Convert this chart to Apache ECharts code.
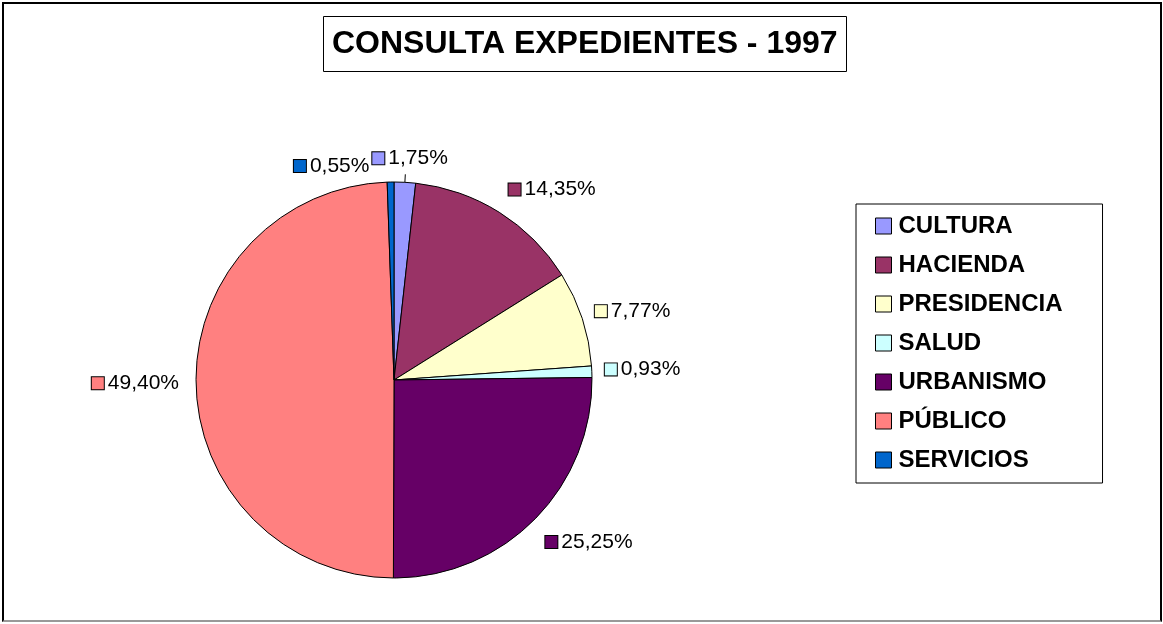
<!DOCTYPE html>
<html>
<head>
<meta charset="utf-8">
<title>CONSULTA EXPEDIENTES - 1997</title>
<script src="https://cdn.jsdelivr.net/npm/echarts@6/dist/echarts.min.js"></script>
<style>
  html, body { margin: 0; padding: 0; background: #fff; }
  #chart { width: 1163px; height: 624px; }
  #frame {
    position: absolute; left: 2px; top: 2px; width: 1160px; height: 620px;
    box-sizing: border-box; border: 2px solid #000; border-bottom-color: #999;
    pointer-events: none;
  }
</style>
</head>
<body>
<div id="chart"></div>
<div id="frame"></div>
<script>
const categories = ["CULTURA", "HACIENDA", "PRESIDENCIA", "SALUD", "URBANISMO", "PÚBLICO", "SERVICIOS"];
const percentages = [1.75, 14.35, 7.77, 0.93, 25.25, 49.40, 0.55];
const colors = ["#9999FF", "#993366", "#FFFFCC", "#CCFFFF", "#660066", "#FF8080", "#0066CC"];

// small nudges so the labels sit where the original placed them
const labelNudge = [[-38, -16], [0, -16], [0, -5], [0, -2], [0, 17], [-4, 0], [-16, -8]];

const chart = echarts.init(document.getElementById("chart"));

const rich = {
  v: { fontFamily: "Liberation Sans", fontSize: 21, color: "#000", padding: [0, 0, 0, 4] }
};
colors.forEach(function (c, i) {
  rich["m" + i] = { width: 12, height: 12, backgroundColor: c, borderColor: "#000", borderWidth: 1 };
});

const pieData = categories.map(function (name, i) {
  return {
    name: name,
    value: percentages[i],
    labelLine: { show: i === 0 }
  };
});

const option = {
  color: colors,
  animation: false,
  title: {
    text: "CONSULTA EXPEDIENTES - 1997",
    left: 323,
    top: 16,
    padding: [12, 9, 12, 9],
    borderColor: "#000",
    borderWidth: 1,
    textStyle: { fontFamily: "Liberation Sans", fontSize: 32, fontWeight: "bold", color: "#000" }
  },
  legend: {
    orient: "vertical",
    left: 856,
    top: 204,
    padding: [10, 40, 11, 19],
    itemWidth: 16,
    itemHeight: 16,
    itemGap: 15,
    icon: "rect",
    borderColor: "#000",
    borderWidth: 1,
    itemStyle: { borderColor: "#000", borderWidth: 1 },
    textStyle: {
      fontFamily: "Liberation Sans", fontSize: 24, fontWeight: "bold", color: "#000",
      lineHeight: 24, padding: [0, 0, 0, 2]
    },
    data: categories
  },
  series: [
    {
      type: "pie",
      center: [394, 380],
      radius: 198,
      startAngle: 90,
      clockwise: true,
      data: pieData,
      itemStyle: { borderColor: "#000", borderWidth: 1 },
      emphasis: { disabled: true },
      label: {
        show: true,
        position: "outside",
        formatter: function (p) {
          return "{m" + p.dataIndex + "|}{v|" + p.value.toFixed(2).replace(".", ",") + "%}";
        },
        rich: rich
      },
      labelLine: {
        length: 8,
        length2: 0,
        lineStyle: { color: "#000", width: 1 }
      },
      labelLayout: function (params) {
        const n = labelNudge[params.dataIndex];
        return { dx: n[0], dy: n[1] };
      }
    }
  ]
};

chart.setOption(option);
window.onresize = function () {
  chart.resize();
};
</script>
</body>
</html>
